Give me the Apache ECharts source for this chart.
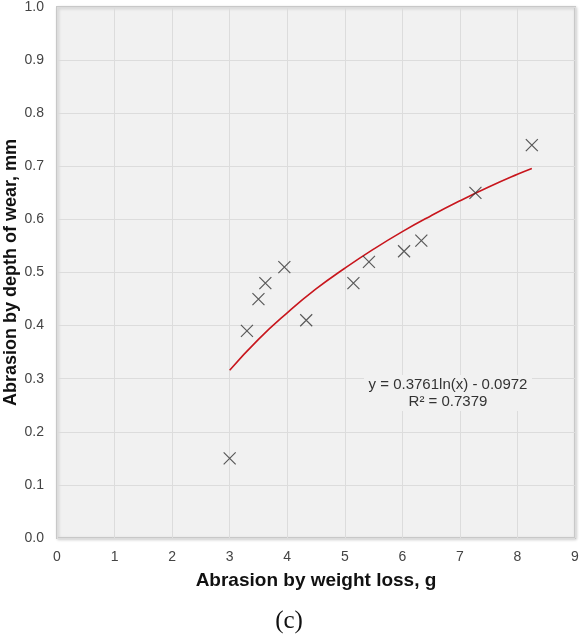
<!DOCTYPE html>
<html lang="en">
<head>
    <meta charset="UTF-8">
    <title>Abrasion</title>
    <style>
        body, html {
            margin: 0;
            width: 100%;
            height: 100%;
            background: #fff;
        }
        #container {
            width: 581px;
            height: 640px;
        }
    </style>
    <script src="https://cdn.jsdelivr.net/npm/echarts@6/dist/echarts.min.js"></script>
</head>
<body>
<div id="container"></div>
<script type="text/javascript">
    // measured points (weight loss g, depth of wear mm)
    var weightLoss = [3.0, 3.3, 3.5, 3.62, 3.95, 4.33, 5.15, 5.42, 6.03, 6.33, 7.27, 8.25];
    var wearDepth = [0.15, 0.39, 0.45, 0.48, 0.51, 0.41, 0.48, 0.52, 0.54, 0.56, 0.65, 0.74];
    // log trend line
    var trendX = [3, 3.5, 4, 4.5, 5, 5.5, 6, 6.5, 7, 7.5, 8, 8.25];
    var trendY = [0.316, 0.374, 0.424, 0.469, 0.508, 0.544, 0.577, 0.607, 0.635, 0.661, 0.685, 0.696];
    var xTicks = [0, 1, 2, 3, 4, 5, 6, 7, 8, 9];
    var yTicks = [0.0, 0.1, 0.2, 0.3, 0.4, 0.5, 0.6, 0.7, 0.8, 0.9, 1.0];

    var pts = weightLoss.map(function (x, i) { return [x, wearDepth[i]]; });
    var trend = trendX.map(function (x, i) { return [x, trendY[i]]; });

    var myChart = echarts.init(document.getElementById('container'));
    var option = {
        animation: false,
        backgroundColor: '#fff',
        textStyle: {fontFamily: 'Liberation Sans, Arial, sans-serif'},
        grid: {
            left: 57, top: 7, right: 6, bottom: 102,
            outerBoundsMode: 'none',
            containLabel: false,
            show: true,
            backgroundColor: '#f1f1f1',
            borderColor: '#c8c8c8',
            borderWidth: 2,
            shadowColor: 'rgba(0,0,0,0.15)',
            shadowBlur: 3,
            shadowOffsetX: 1,
            shadowOffsetY: 1
        },
        xAxis: {
            type: 'value',
            min: xTicks[0], max: xTicks[xTicks.length - 1], interval: 1,
            name: 'Abrasion by weight loss, g',
            nameLocation: 'middle', nameGap: 33,
            nameMoveOverlap: false,
            nameTextStyle: {fontSize: 19, fontWeight: 'bold', color: '#111'},
            axisLine: {show: false},
            axisTick: {show: false},
            axisLabel: {fontSize: 14, color: '#444', margin: 12},
            splitLine: {lineStyle: {color: '#dcdcdc', width: 1}}
        },
        yAxis: {
            type: 'value',
            min: yTicks[0], max: yTicks[yTicks.length - 1], interval: 0.1,
            name: 'Abrasion by depth of wear, mm',
            nameLocation: 'middle', nameGap: 37,
            nameMoveOverlap: false,
            nameTextStyle: {fontSize: 18, fontWeight: 'bold', color: '#111'},
            axisLine: {show: false},
            axisTick: {show: false},
            axisLabel: {
                fontSize: 14, color: '#444', margin: 13,
                formatter: function (v) { return v.toFixed(1); }
            },
            splitLine: {lineStyle: {color: '#dcdcdc', width: 1}}
        },
        series: [
            {
                type: 'line',
                data: trend,
                smooth: true,
                symbol: 'none',
                lineStyle: {color: '#c8161d', width: 1.6},
                z: 2
            },
            {
                type: 'scatter',
                data: pts,
                symbol: 'path://M0,0L10,10M10,0L0,10',
                symbolSize: 12,
                itemStyle: {color: 'none', borderColor: '#333', borderWidth: 1.2},
                z: 3
            }
        ],
        graphic: [
            {
                type: 'rect',
                shape: {x: 364, y: 375, width: 168, height: 36},
                style: {fill: '#f1f1f1'},
                z: 9
            },
            {
                type: 'text',
                x: 448, y: 376,
                style: {
                    text: 'y = 0.3761ln(x) - 0.0972\nR² = 0.7379',
                    align: 'center',
                    verticalAlign: 'top',
                    fontSize: 15, lineHeight: 17,
                    fill: '#333',
                    fontFamily: 'Liberation Sans, Arial, sans-serif'
                },
                z: 10
            },
            {
                type: 'text',
                x: 289, y: 621,
                style: {
                    text: '(c)',
                    align: 'center',
                    verticalAlign: 'middle',
                    fontSize: 25,
                    fill: '#111',
                    fontFamily: 'Liberation Serif, Times New Roman, serif'
                }
            }
        ]
    };
    myChart.setOption(option);
</script>
</body>
</html>
